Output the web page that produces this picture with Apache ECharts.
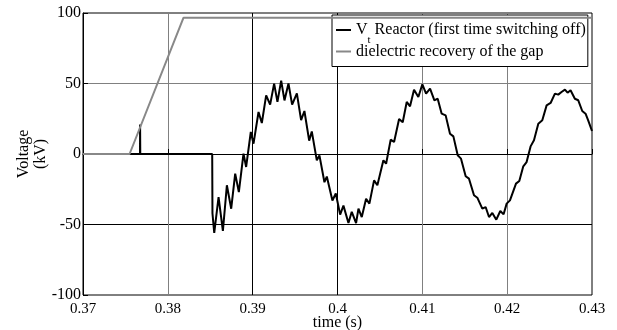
<!DOCTYPE html>
<html>
<head>
<meta charset="utf-8">
<script src="https://cdn.jsdelivr.net/npm/echarts@6/dist/echarts.min.js"></script>
<style>
  html, body { margin: 0; padding: 0; background: #ffffff; }
  #chart { width: 617px; height: 330px; }
</style>
</head>
<body>
<div id="chart"></div>
<script>
// Axis ticks
const timeTicks = [0.37, 0.38, 0.39, 0.40, 0.41, 0.42, 0.43];
const voltageTicks = [-100, -50, 0, 50, 100];

// Reactor terminal voltage Vt (kV) after the first switching-off
const reactorTime = [
  0.37, 0.37672, 0.37673, 0.37675, 0.38523, 0.38526, 0.38547, 0.38598, 0.38649, 0.38696,
  0.38747, 0.38794, 0.38837, 0.38892, 0.38923, 0.38978, 0.39010, 0.39069, 0.39108, 0.39159,
  0.39206, 0.39253, 0.39292, 0.39336, 0.39375, 0.39422, 0.39465, 0.39521, 0.39571, 0.39610,
  0.39666, 0.39697, 0.39756, 0.39787, 0.39846, 0.39874, 0.39940, 0.39980, 0.40031, 0.40070,
  0.40129, 0.40168, 0.40219, 0.40247, 0.40286, 0.40337, 0.40376, 0.40431, 0.40470, 0.40541,
  0.40573, 0.40627, 0.40667, 0.40726, 0.40769, 0.40816, 0.40855, 0.40902, 0.40953, 0.41000,
  0.41044, 0.41091, 0.41142, 0.41181, 0.41228, 0.41275, 0.41326, 0.41366, 0.41417, 0.41456,
  0.41511, 0.41550, 0.41609, 0.41648, 0.41707, 0.41746, 0.41786, 0.41825, 0.41872, 0.41919,
  0.41958, 0.41994, 0.42033, 0.42104, 0.42143, 0.42190, 0.42229, 0.42276, 0.42316, 0.42367,
  0.42414, 0.42465, 0.42512, 0.42563, 0.42602, 0.42641, 0.42681, 0.42712, 0.42747, 0.42798,
  0.42838, 0.42885, 0.42924, 0.42955, 0.43
];
const reactorVoltage = [
  0, 0, 21, 0, 0, -42, -56, -30.5, -54.6, -22.2,
  -38.8, -13.9, -27, 0.2, -9.2, 15.6, 7.3, 29.8, 22, 41.6,
  35, 49.9, 37, 52, 38, 50, 35, 43, 24, 30.5,
  9.5, 16, -4.5, -1, -20, -16, -33, -28, -43, -36.6,
  -49, -41, -49, -38.8, -44.7, -31.7, -35.2, -18.7, -22.2, -4.5,
  -6.9, 10.2, 8.5, 24.8, 22.5, 36.9, 33.8, 45.6, 40.4, 49.4,
  42.8, 46.3, 38, 39.2, 28.6, 27.4, 14.4, 12.5, -0.9, -3.3,
  -15.8, -17.5, -29.3, -31, -38.8, -37.6, -44.7, -41.8, -46.6, -40.4,
  -42.8, -35.2, -32.9, -21, -19.1, -8.7, -5.7, 5.4, 9.7, 21.5,
  23.9, 34.5, 36.2, 42.8, 42.1, 44, 45.6, 43.5, 45.2, 39.2,
  38.1, 30.5, 28.6, 23.9, 16.3
];

// Dielectric recovery of the contact gap (kV)
const recoveryTime = [0.37, 0.37549, 0.38185, 0.43];
const recoveryVoltage = [0, 0, 96.7, 96.7];

const reactorName = 'Vt Reactor (first time switching off)';
const recoveryName = 'dielectric recovery of the gap';

const pairs = (xs, ys) => xs.map((x, i) => [x, ys[i]]);

const FONT = '"Liberation Serif", "Times New Roman", serif';
const GRID_DARK = '#000000';
const GRID_LIGHT = '#808080';

const chart = echarts.init(document.getElementById('chart'), null, { renderer: 'canvas' });

chart.setOption({
  animation: false,
  backgroundColor: '#ffffff',
  textStyle: { fontFamily: FONT, color: '#000' },
  grid: {
    left: 83, right: 25, top: 13, bottom: 35,
    outerBoundsMode: 'none',
    containLabel: false,
    show: true, borderColor: '#000', borderWidth: 1, backgroundColor: 'transparent'
  },
  legend: {
    orient: 'vertical',
    left: 332, top: 15,
    padding: [7, 2, 7, 4],
    itemGap: -2,
    itemWidth: 15,
    itemHeight: 2,
    icon: 'rect',
    backgroundColor: '#fff',
    borderColor: '#000',
    borderWidth: 1,
    borderRadius: 0,
    data: [reactorName, recoveryName],
    formatter: function (name) {
      if (name === reactorName) {
        return '{a|V}{s|t}{a| Reactor (first time switching off)}';
      }
      return '{b|' + name + '}';
    },
    textStyle: {
      fontFamily: FONT, fontSize: 16, color: '#000',
      rich: {
        a: { fontFamily: FONT, fontSize: 16, color: '#000', lineHeight: 17 },
        b: { fontFamily: FONT, fontSize: 16, color: '#000', lineHeight: 17 },
        // subscript: shifted down below the baseline of the main text
        s: { fontFamily: FONT, fontSize: 11, color: '#000', lineHeight: 12, padding: [10, 0, -10, 0] }
      }
    }
  },
  xAxis: {
    type: 'value',
    min: timeTicks[0],
    max: timeTicks[timeTicks.length - 1],
    interval: 0.01,
    name: 'time (s)',
    nameLocation: 'middle',
    nameGap: 20,
    nameMoveOverlap: false,
    nameTextStyle: { fontFamily: FONT, fontSize: 16, color: '#000' },
    axisLine: { show: true, lineStyle: { color: '#000', width: 1 } },
    axisTick: { show: true, inside: true, length: 5, lineStyle: { color: '#000' } },
    axisLabel: {
      fontFamily: FONT, fontSize: 15, color: '#000', margin: 7,
      formatter: v => String(Math.round(v * 100) / 100)
    },
    splitLine: {
      show: true,
      showMinLine: false,
      showMaxLine: false,
      lineStyle: {
        width: 1,
        color: [GRID_LIGHT, GRID_DARK, GRID_DARK, GRID_LIGHT, GRID_LIGHT]
      }
    }
  },
  yAxis: {
    type: 'value',
    min: voltageTicks[0],
    max: voltageTicks[voltageTicks.length - 1],
    interval: 50,
    name: 'Voltage\n(kV)',
    nameLocation: 'middle',
    nameRotate: 90,
    nameGap: 34,
    nameMoveOverlap: false,
    nameTextStyle: { fontFamily: FONT, fontSize: 16, color: '#000', lineHeight: 17 },
    axisLine: { show: true, lineStyle: { color: '#000', width: 1 } },
    axisTick: { show: true, inside: true, length: 5, lineStyle: { color: '#000' } },
    axisLabel: { fontFamily: FONT, fontSize: 16, color: '#000', margin: 2 },
    splitLine: {
      show: true,
      showMinLine: false,
      showMaxLine: false,
      lineStyle: {
        width: 1,
        color: [GRID_DARK, GRID_LIGHT, GRID_LIGHT]
      }
    }
  },
  series: [
    {
      name: reactorName,
      type: 'line',
      data: pairs(reactorTime, reactorVoltage),
      showSymbol: false,
      symbol: 'none',
      color: '#000',
      lineStyle: { color: '#000', width: 2 },
      z: 3
    },
    {
      name: recoveryName,
      type: 'line',
      data: pairs(recoveryTime, recoveryVoltage),
      showSymbol: false,
      symbol: 'none',
      color: '#888',
      lineStyle: { color: '#888', width: 2 },
      z: 4
    }
  ]
});
</script>
</body>
</html>
